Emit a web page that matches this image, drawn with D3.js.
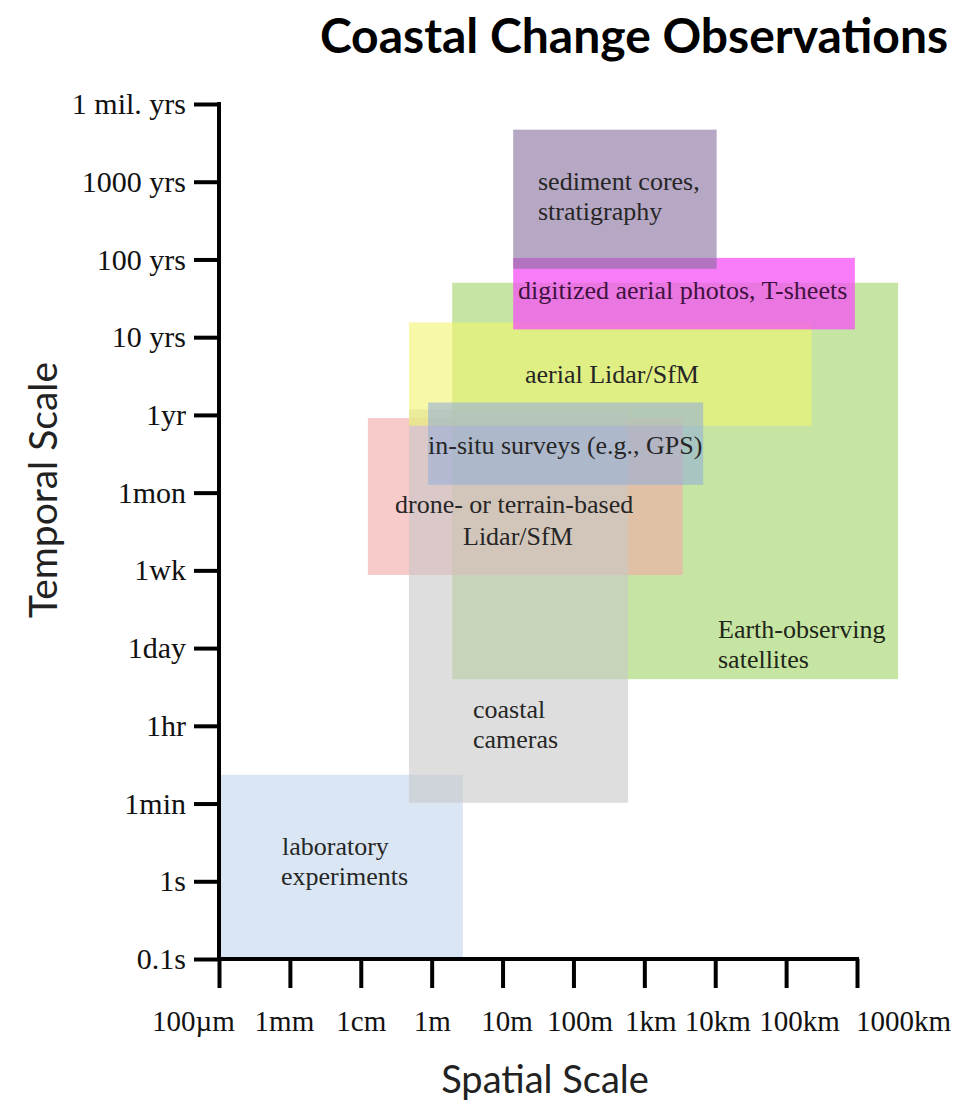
<!DOCTYPE html>
<html>
<head>
<meta charset="utf-8">
<script src="https://cdn.jsdelivr.net/npm/d3@7"></script>
<style>
  html, body { margin: 0; padding: 0; background: #ffffff; }
  svg { display: block; }
</style>
</head>
<body>
<div id="chart"></div>
<script>
// ---------------- DATA ----------------
const title = "Coastal Change Observations";
const xTickLabels = ["100µm", "1mm", "1cm", "1m", "10m", "100m", "1km", "10km", "100km", "1000km"];
const yTickLabels = ["0.1s", "1s", "1min", "1hr", "1day", "1wk", "1mon", "1yr", "10 yrs", "100 yrs", "1000 yrs", "1 mil. yrs"];
const xTitle = "Spatial Scale";
const yTitle = "Temporal Scale";

// Observation methods, extents given in tick-index units (0 = first tick)
const methods    = ["satellites", "laboratory", "drone", "cameras", "aerial", "insitu", "digitized", "sediment"];
const spatialMin = [3.29, 0.00, 2.10, 2.68, 2.68, 2.95, 4.15, 4.15];
const spatialMax = [9.58, 3.44, 6.54, 5.77, 8.36, 6.83, 8.97, 7.02];
const temporalMin= [3.60, 0.00, 4.94, 2.01, 6.86, 6.10, 8.10, 8.88];
const temporalMax= [8.70, 2.37, 6.96, 7.07, 8.19, 7.16, 9.02, 10.67];
const methodLabels = [
  ["Earth-observing", "satellites"],
  ["laboratory", "experiments"],
  ["drone- or terrain-based", "Lidar/SfM"],
  ["coastal", "cameras"],
  ["aerial Lidar/SfM"],
  ["in-situ surveys (e.g., GPS)"],
  ["digitized aerial photos, T-sheets"],
  ["sediment cores,", "stratigraphy"]
];

// ---------------- STYLE / LAYOUT ----------------
const W = 973, H = 1105;
const styles = {
  satellites: { fill: "rgb(198,229,163)", op: 1 },
  laboratory: { fill: "rgb(218,230,244)", op: 1 },
  drone:      { fill: "rgb(243,168,168)", op: 0.6 },
  cameras:    { fill: "rgb(200,200,200)", op: 0.6 },
  aerial:     { fill: "rgb(242,245,110)", op: 0.6 },
  insitu:     { fill: "rgb(150,175,215)", op: 0.6 },
  digitized:  { fill: "rgb(245,80,245)",  op: 0.75 },
  sediment:   { fill: "rgb(133,110,157)", op: 0.6 }
};
// label anchors (px): [x, baseline] per line
const labelLayout = {
  satellites: [[718, 638], [718, 668]],
  laboratory: [[282, 855], [281, 885]],
  drone:      [[395, 513], [463, 545]],
  cameras:    [[473, 718], [473, 748]],
  aerial:     [[525, 383]],
  insitu:     [[428, 454]],
  digitized:  [[518, 299]],
  sediment:   [[538, 190], [538, 220]]
};
const labelColor = { digitized: "#3f1340", satellites: "#1e2619" };
const xLabelNudge = [-26, -6, 0, 0, 4, 6, 6, 2, 13, 46];

const svg = d3.select("#chart").append("svg").attr("width", W).attr("height", H);

const x = d3.scaleLinear().domain([0, 9]).range([219, 857]);
const y = d3.scaleLinear().domain([0, 11]).range([959, 104]);

// Rectangles
const rects = methods.map((m, i) => ({
  m, x0: spatialMin[i], x1: spatialMax[i], y0: temporalMin[i], y1: temporalMax[i], lines: methodLabels[i]
}));

svg.append("g").selectAll("rect").data(rects).join("rect")
  .attr("x", d => x(d.x0))
  .attr("y", d => y(d.y1))
  .attr("width", d => x(d.x1) - x(d.x0))
  .attr("height", d => y(d.y0) - y(d.y1))
  .attr("fill", d => styles[d.m].fill)
  .attr("fill-opacity", d => styles[d.m].op);

// Labels
const serif = "'Liberation Serif', 'Times New Roman', serif";
const lg = svg.append("g");
rects.forEach(d => {
  d.lines.forEach((t, j) => {
    const p = labelLayout[d.m][j];
    lg.append("text").attr("x", p[0]).attr("y", p[1])
      .style("font-family", serif).style("font-size", "26px")
      .attr("fill", labelColor[d.m] || "#262626")
      .text(t);
  });
});

// Axes
const yAxis = d3.axisLeft(y)
  .tickValues(d3.range(yTickLabels.length))
  .tickFormat(i => yTickLabels[i])
  .tickSize(25).tickSizeOuter(0).tickPadding(8);
const gy = svg.append("g").attr("transform", `translate(${x(0)},0)`).call(yAxis);
gy.select(".domain").attr("stroke", "#000").attr("stroke-width", 4).attr("d", `M0,${y(11) - 2}V${y(0) + 2}`);
gy.selectAll(".tick line").attr("stroke", "#000").attr("stroke-width", 4).attr("x2", -25);
gy.selectAll(".tick text").style("font-family", serif).style("font-size", "30px").attr("fill", "#111");

const xAxis = d3.axisBottom(x)
  .tickValues(d3.range(xTickLabels.length))
  .tickFormat(i => xTickLabels[i])
  .tickSize(29).tickSizeOuter(0).tickPadding(22);
const gx = svg.append("g").attr("transform", `translate(0,${y(0)})`).call(xAxis);
gx.select(".domain").attr("stroke", "#000").attr("stroke-width", 4).attr("d", `M${x(0) - 2},0H${x(9) + 2}`);
gx.selectAll(".tick line").attr("stroke", "#000").attr("stroke-width", 4);
gx.selectAll(".tick text").style("font-family", serif).style("font-size", "29px").attr("fill", "#111")
  .attr("dx", (d, i) => xLabelNudge[i]);

// Titles
const sans = "Lato, 'Open Sans', sans-serif";
svg.append("text").attr("x", 634).attr("y", 53).attr("text-anchor", "middle")
  .style("font-family", sans).style("font-weight", "bold").style("font-size", "48px").attr("fill", "#000")
  .text(title);
svg.append("text").attr("x", 545).attr("y", 1093).attr("text-anchor", "middle")
  .style("font-family", sans).style("font-size", "38px").attr("fill", "#222")
  .text(xTitle);
svg.append("text").attr("transform", "translate(57,490) rotate(-90)").attr("text-anchor", "middle")
  .style("font-family", sans).style("font-size", "39px").attr("fill", "#222")
  .text(yTitle);
</script>
</body>
</html>
